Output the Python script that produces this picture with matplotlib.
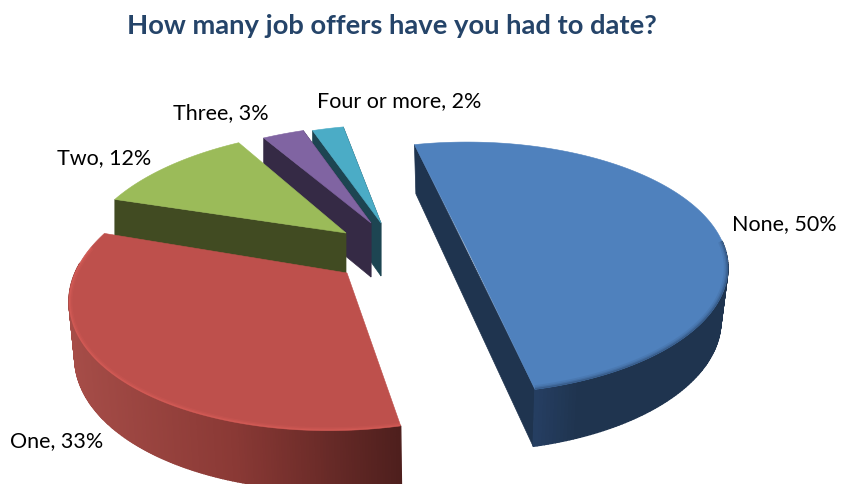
import numpy as np
import matplotlib
matplotlib.use("Agg")
import matplotlib.pyplot as plt
from matplotlib.patches import Polygon
from matplotlib.colors import to_rgb

title = "How many job offers have you had to date?"
categories = ["None", "One", "Two", "Three", "Four or more"]
values = [50, 33, 12, 3, 2]

# styles / layout
top_colors = ["#4F81BD", "#BE504C", "#9BBB59", "#8064A2", "#4BACC6"]
wall_stops = [["#263F63", "#1F344F", "#1F344F"],
              ["#A64D48", "#8A3935", "#4E1F1D"],
              ["#414B22", "#414B22", "#414B22"],
              ["#352A45", "#352A45", "#352A45"],
              ["#1D4552", "#1D4552", "#1D4552"]]
apex = [(467, 249), (347, 273), (346, 233), (371, 223), (381, 223)]
radii = [(258, 123), (272, 134), (258, 120), (252, 113), (250, 113)]
vanish = [467, 452, 470, 470, 470]
wall_q = [0.973, 0.985, 1.0, 1.0, 1.0]
depth = [52.5, 55, 52, 54, 53]
nudge = [(0.5, 1.0), (1.0, 3.2), (2.2, 0), (0, 0), (0, 1.0)]
label_xy = [(732, 224), (10, 441), (57, 158), (173, 113), (317, 101)]
draw_order = [4, 3, 2, 0, 1]
start_angle = -14.0
K = 0.15

fig = plt.figure(figsize=(8.41, 4.84), dpi=100)
ax = fig.add_axes([0, 0, 1, 1])
ax.set_xlim(0, 841)
ax.set_ylim(484, 0)
ax.axis("off")


def project(i, theta):
    t = np.radians(theta)
    u, v = np.sin(t), -np.cos(t)
    s = 1 / (1 - K * v)
    ax0, ay0 = apex[i]
    a, b = radii[i]
    x = ax0 + a * u * s + (ax0 - vanish[i]) * (s - 1)
    y = ay0 + b * v * s
    return x, y, s


def lower(i, x, y, s):
    return (vanish[i] + (x - vanish[i]) * wall_q[i],
            y + depth[i] * (0.5 + 0.5 * s))


def wall_color(i, f):
    c = [np.array(to_rgb(h)) for h in wall_stops[i]]
    if f < 0.5:
        return c[0] + (c[1] - c[0]) * f * 2
    return c[1] + (c[2] - c[1]) * (f - 0.5) * 2


edges = np.cumsum([0] + values) / sum(values) * 360 + start_angle
for i in draw_order:
    th0, th1 = edges[i] + nudge[i][0], edges[i + 1] + nudge[i][1]
    thetas = np.linspace(th0, th1, 240)
    X, Y, S = project(i, thetas)
    LX, LY = lower(i, X, Y, S)
    wc = wall_stops[i][1]
    ax0, ay0 = apex[i]
    a0x, a0y = lower(i, ax0, ay0, 1.0)

    # flat faces (visible when the drop lies outside the top face)
    if i == 0:
        quad = [(X[-1], Y[-1]), (LX[-1], LY[-1]), (LX[0], LY[0]), (X[0], Y[0])]
        ax.add_patch(Polygon(quad, closed=True, fc=wc, ec=wc, lw=0.5))
    if i in (2, 3, 4):
        quad = [(ax0, ay0), (a0x, a0y), (LX[0], LY[0]), (X[0], Y[0])]
        ax.add_patch(Polygon(quad, closed=True, fc=wc, ec=wc, lw=0.5))
        if i in (3, 4):
            quad = [(ax0, ay0), (a0x, a0y), (LX[-1], LY[-1]), (X[-1], Y[-1])]
            ax.add_patch(Polygon(quad, closed=True, fc=wc, ec=wc, lw=0.5))

    # outer wall: only the part of the rim that faces the viewer
    if i in (0, 1):
        lo, hi = X.min(), X.max()
        for j in range(len(thetas) - 1):
            if S[j] < 0.99:
                continue
            if i == 0:
                f = 0.5 * np.clip((X[j] - X[-1]) / 45, 0, 1)
            else:
                f = (X[j] - lo) / (hi - lo)
            col = wall_color(i, f)
            quad = [(X[j], Y[j]), (X[j + 1], Y[j + 1]), (LX[j + 1], LY[j + 1]), (LX[j], LY[j])]
            ax.add_patch(Polygon(quad, closed=True, fc=col, ec=col, lw=1.0))

    # top face
    top = np.column_stack([np.r_[ax0, X], np.r_[ay0, Y]])
    face = Polygon(top, closed=True, fc=top_colors[i], ec=top_colors[i], lw=0.4)
    ax.add_patch(face)

    # bevel highlight along the rim, kept inside the top face
    if i == 1:
        mask = S > 0.97
        for lw, al in [(5.0, 0.10), (3.0, 0.16), (1.4, 0.22)]:
            ln, = ax.plot(X[mask], Y[mask], color="#F26C66", lw=lw, alpha=al,
                          solid_capstyle="butt")
            ln.set_clip_path(face)
    if i == 0:
        mask = S > 0.99
        for lw, al in [(6.0, 0.10), (3.6, 0.16), (1.8, 0.3)]:
            ln, = ax.plot(X[mask], Y[mask], color="#22395A", lw=lw, alpha=al,
                          solid_capstyle="butt")
            ln.set_clip_path(face)

ax.text(392, 26, title, family="Lato", weight="bold", fontsize=19.7,
        color="#254469", ha="center", va="center")
for (cat, val, (lx, ly)) in zip(categories, values, label_xy):
    ax.text(lx, ly, f"{cat}, {val}%", family="Lato", fontsize=15.5,
            color="black", ha="left", va="center")

fig.savefig("out.png", dpi=100)
